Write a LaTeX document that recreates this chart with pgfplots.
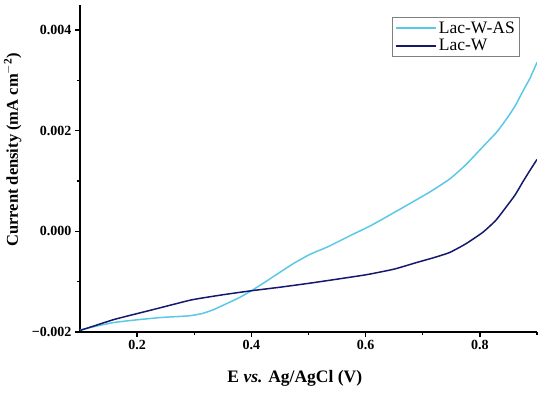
\documentclass[border=0pt]{standalone}
\usepackage{fontspec}
\setmainfont{Liberation Serif}
\usepackage{pgfplots}
\pgfplotsset{compat=1.18}
\definecolor{lightc}{HTML}{5CC8E8}
\definecolor{darkc}{HTML}{15196E}
\begin{document}
\begin{tikzpicture}
\begin{axis}[
  scale only axis,
  width=457pt, height=327pt,
  xmin=0.1, xmax=0.9, ymin=-0.002, ymax=0.0045,
  axis x line*=bottom, axis y line*=left,
  axis line style={line width=1.8pt,-},
  xtick={0.2,0.4,0.6,0.8},
  xticklabels={0.2,0.4,0.6,0.8},
  ytick={-0.002,0,0.002,0.004},
  yticklabels={−0.002,0.000,0.002,0.004},
  minor xtick={0.3,0.5,0.7,0.9},
  minor ytick={-0.001,0.001,0.003},
  tick align=outside,
  major tick length=5pt, minor tick length=3pt,
  tick style={line width=1.4pt, black},
  xticklabel style={font=\bfseries\fontsize{14}{16}\selectfont},
  yticklabel style={font=\bfseries\fontsize{14}{16}\selectfont},
  scaled y ticks=false,
  xlabel={\bfseries E \textit{vs.} Ag/AgCl (V)},
  ylabel={\bfseries Current density (mA cm$^{\mathbf{-2}}$)},
  xlabel style={font=\bfseries\fontsize{17.5}{19}\selectfont, at={(axis description cs:0.470,-0.141)}, anchor=center},
  ylabel style={font=\bfseries\fontsize{16.5}{18}\selectfont, at={(axis description cs:-0.147,0.557)}, anchor=center},
  legend style={at={(0.963,0.963)}, anchor=north east, draw=gray, line width=0.7pt,
    font=\fontsize{17.5}{19}\selectfont, inner xsep=3pt, inner ysep=2pt, row sep=1pt},
  legend cell align=left,
  legend image code/.code={\draw[#1, line width=1.5pt] (0pt,0pt) -- (40pt,0pt);},
]
\addplot[color=lightc, line width=1.5pt, smooth, tension=0.3] coordinates {
(0.100,-0.00196) (0.130,-0.00188) (0.160,-0.00181) (0.198,-0.00176) (0.244,-0.00171)
(0.290,-0.00168) (0.315,-0.00163) (0.335,-0.00155) (0.356,-0.00144) (0.380,-0.00131)
(0.400,-0.00118) (0.425,-0.00100) (0.449,-0.00082) (0.475,-0.00063) (0.502,-0.00046)
(0.535,-0.00030) (0.572,-0.00009) (0.610,0.00012) (0.660,0.00044) (0.712,0.00078)
(0.747,0.00104) (0.775,0.00132) (0.805,0.00168) (0.830,0.00198) (0.847,0.00224)
(0.862,0.00250) (0.875,0.00278) (0.888,0.00305) (0.900,0.00336)
};
\addlegendentry{Lac-W-AS}
\addplot[color=darkc, line width=1.5pt, smooth, tension=0.3] coordinates {
(0.100,-0.00197) (0.130,-0.00186) (0.160,-0.00175) (0.198,-0.00164) (0.240,-0.00152)
(0.296,-0.00136) (0.350,-0.00126) (0.400,-0.00118) (0.450,-0.00111) (0.502,-0.00103)
(0.550,-0.00095) (0.602,-0.00086) (0.650,-0.00075) (0.689,-0.00062) (0.720,-0.00052)
(0.747,-0.00042) (0.775,-0.00025) (0.805,-0.00002) (0.828,0.00022) (0.847,0.00050)
(0.862,0.00073) (0.875,0.00098) (0.887,0.00120) (0.900,0.00143)
};
\addlegendentry{Lac-W}
\end{axis}
\pgfresetboundingbox
\path (-80pt,-61pt) rectangle (470pt,332pt);
\end{tikzpicture}
\end{document}
